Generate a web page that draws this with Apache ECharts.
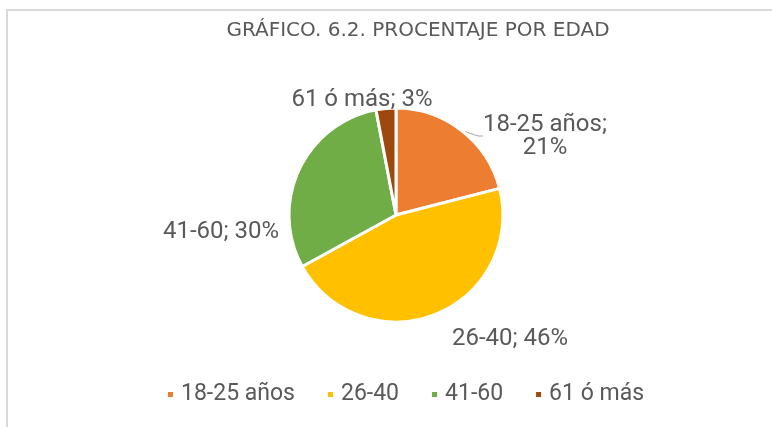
<!DOCTYPE html>
<html>
<head>
<meta charset="utf-8">
<script src="https://cdn.jsdelivr.net/npm/echarts@6/dist/echarts.min.js"></script>
<style>
  html, body { margin: 0; padding: 0; background: #fff; }
  #chart { width: 772px; height: 427px; }
</style>
</head>
<body>
<div id="chart"></div>
<script>
// categorías y porcentajes
const categories = ['18-25 años', '26-40', '41-60', '61 ó más']
const values = [21, 46, 30, 3]
const colors = ['#ED7D31', '#FFC000', '#70AD47', '#9E480E']

// posiciones de las etiquetas (centro del texto)
const labelPos = [[545, 136], [510, 339], [221, 232], [362, 100]]

const chart = echarts.init(document.getElementById('chart'))

const data = categories.map((name, i) => ({
  name,
  value: values[i],
  itemStyle: { color: colors[i] },
  label: i === 0 ? { formatter: '{b};\n{c}%' } : {},
  labelLine: { show: i === 0 },
}))

chart.setOption({
  backgroundColor: '#fff',
  title: {
    text: 'GRÁFICO. 6.2. PROCENTAJE POR EDAD',
    left: 418,
    top: 21,
    padding: 0,
    textAlign: 'center',
    textStyle: { fontFamily: 'DejaVu Sans', fontSize: 20, fontWeight: 'normal', color: '#595959' },
  },
  legend: {
    data: categories,
    left: 166,
    top: 383,
    padding: 0,
    icon: 'rect',
    itemWidth: 7,
    itemHeight: 7,
    itemGap: 31,
    textStyle: { fontFamily: 'Roboto', fontSize: 23, color: '#595959', padding: [0, 0, 0, 2] },
  },
  graphic: [{
    type: 'rect',
    shape: { x: 7, y: 10, width: 900, height: 500 },
    style: { fill: 'none', stroke: '#d9d9d9', lineWidth: 2 },
    silent: true,
  }],
  series: [{
    type: 'pie',
    center: [396, 215],
    radius: 107,
    startAngle: 90,
    clockwise: true,
    animation: false,
    itemStyle: { borderColor: '#fff', borderWidth: 3 },
    label: {
      show: true,
      position: 'outside',
      formatter: '{b}; {c}%',
      fontFamily: 'Roboto',
      fontSize: 24,
      lineHeight: 23,
      color: '#595959',
      align: 'center',
    },
    labelLine: { show: false, length: 5, length2: 5, lineStyle: { color: '#a6a6a6', width: 1 } },
    labelLayout: params => ({
      x: labelPos[params.dataIndex][0],
      y: labelPos[params.dataIndex][1],
      align: 'center',
      verticalAlign: 'middle',
    }),
    data,
  }],
})
</script>
</body>
</html>
